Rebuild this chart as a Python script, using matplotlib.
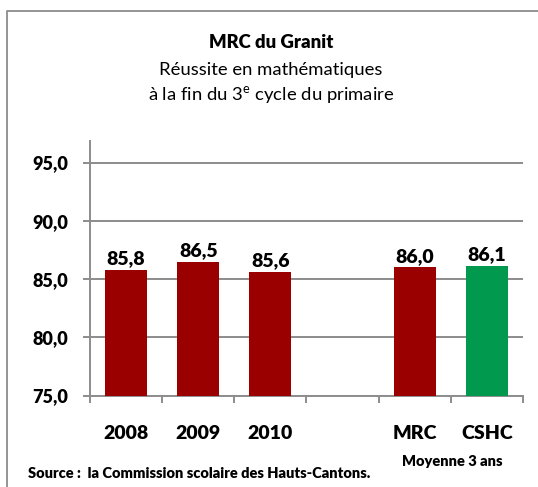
import numpy as np
import matplotlib
matplotlib.use('Agg')
import matplotlib.pyplot as plt
from matplotlib.lines import Line2D
from matplotlib.ticker import FixedLocator

plt.rcParams['font.family'] = ['Lato', 'DejaVu Sans']

# data
categories = ['2008', '2009', '2010', '', 'MRC', 'CSHC']
values = [85.8, 86.5, 85.6, np.nan, 86.0, 86.1]
bar_colors = ['#9B0000', '#9B0000', '#9B0000', '#9B0000', '#9B0000', '#00994D']
y_ticks = [75, 80, 85, 90, 95]

title = 'MRC du Granit'
subtitle1 = 'Réussite en mathématiques'
subtitle2 = 'à la fin du 3$^{\\mathregular{e}}$ cycle du primaire'
source = 'Source :  la Commission scolaire des Hauts-Cantons.'
group_note = 'Moyenne 3 ans'

BOLD = 'heavy'
W, H = 538, 487
fig = plt.figure(figsize=(W / 100, H / 100), dpi=100)
ax = fig.add_axes([90 / W, 1 - 395.5 / H, (523 - 90) / W, (395.5 - 141) / H])

x = np.arange(len(categories))
ax.bar(x, values, width=0.58, color=bar_colors, zorder=3)

for xi, v in zip(x, values):
    if np.isnan(v):
        continue
    ax.annotate(f'{v:.1f}'.replace('.', ','), (xi, v), xytext=(0, 2),
                textcoords='offset points', ha='center', va='bottom',
                fontsize=14, fontweight=BOLD, zorder=4)

grid_c = '#8C8C8C'
ax.set_ylim(75, 96.85)
ax.set_xlim(-0.5, len(categories) - 0.5)
ax.set_yticks(y_ticks)
ax.set_yticklabels([f'{t:.1f}'.replace('.', ',') for t in y_ticks],
                   fontsize=13, fontweight=BOLD)
ax.yaxis.grid(True, color=grid_c, linewidth=1.4, zorder=0)
ax.tick_params(axis='y', length=5, width=1.4, color=grid_c, pad=11)

ax.set_xticks(x)
ax.set_xticklabels(categories, fontsize=14, fontweight=BOLD)
ax.tick_params(axis='x', which='major', length=0, pad=21)
ax.xaxis.set_minor_locator(FixedLocator(np.arange(len(categories) + 1) - 0.5))
ax.tick_params(axis='x', which='minor', length=5, width=1.4, color=grid_c)

for side in ['top', 'right']:
    ax.spines[side].set_visible(False)
for side in ['left', 'bottom']:
    ax.spines[side].set_color(grid_c)
    ax.spines[side].set_linewidth(1.4)

# titles
fig.text(271 / W, 1 - 43 / H, title, ha='center', va='center',
         fontsize=13.3, fontweight=BOLD)
fig.text(271 / W, 1 - 70 / H, subtitle1, ha='center', va='center', fontsize=13.3)
fig.text(271 / W, 1 - 95 / H, subtitle2, ha='center', va='center', fontsize=13.3)

fig.text(452 / W, 1 - 462 / H, group_note, ha='center', va='center',
         fontsize=10.5, fontweight=BOLD)
fig.text(28 / W, 1 - 473 / H, source, ha='left', va='center',
         fontsize=10.5, fontweight=BOLD)

# chart frame (only top and left visible in the crop)
fig.add_artist(Line2D([7 / W, 7 / W, 1], [0, 1 - 11 / H, 1 - 11 / H],
                      transform=fig.transFigure, color='#8C8C8C', linewidth=1.3))

fig.savefig('out.png', dpi=100)
